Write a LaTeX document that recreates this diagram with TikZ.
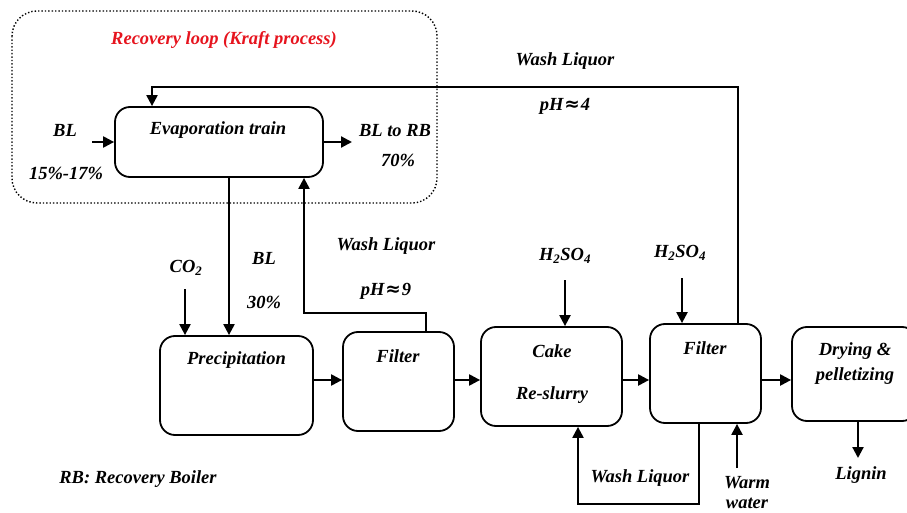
\documentclass[tikz,border=0pt]{standalone}
\usepackage{fontspec}
\setmainfont{Liberation Serif}
\newfontfamily\symfont{DejaVu Sans}
\usetikzlibrary{arrows.meta}
\definecolor{loopred}{RGB}{230,20,30}
\newcommand{\approxsym}{{\symfont\kern1pt≈\kern1pt}}
\tikzset{
  box/.style={draw, line width=1.8pt, rounded corners=15pt},
  flow/.style={line width=2.2pt, -{Triangle[length=11pt,width=11pt]}},
  lbl/.style={font=\fontsize{18.5}{21}\selectfont\bfseries\itshape, inner sep=0pt},
}
\begin{document}
\begin{tikzpicture}[x=1pt,y=-1pt]
\useasboundingbox (0,0) rectangle (907,513);
\clip (0,0) rectangle (907,513);
% recovery loop
\draw[line width=1.4pt, dotted, rounded corners=25pt] (12,11) rectangle (437,203);
\node[lbl, text=loopred] (rl) at (224,40) {Recovery loop (Kraft process)};
% boxes
\node[box, minimum width=208pt, minimum height=70pt] (evap) at (219,142) {};
\node[lbl] at (218,130) {Evaporation train};
\node[box, minimum width=153pt, minimum height=99pt] (prec) at (236.5,385.5) {};
\node[lbl] at (236.5,360) {Precipitation};
\node[box, minimum width=111pt, minimum height=99pt] (f1) at (398.5,381.5) {};
\node[lbl] at (398,356) {Filter};
\node[box, minimum width=141pt, minimum height=99pt] (cake) at (551.5,376.5) {};
\node[lbl] at (552,351) {Cake};
\node[lbl] at (552,395) {Re-slurry};
\node[box, minimum width=111pt, minimum height=99pt] (f2) at (705.5,373.5) {};
\node[lbl] at (705,348) {Filter};
\node[box, minimum width=125pt, minimum height=94pt] (dry) at (854.5,374) {};
\node[lbl] at (855,351) {Drying \&};
\node[lbl] at (855,376) {pelletizing};
% labels
\node[lbl] (bl1) at (65,130) {BL};
\node[lbl] (pct1) at (66,173) {15\%-17\%};
\node[lbl] (blrb) at (395,131) {BL to RB};
\node[lbl] (pct70) at (398,160) {70\%};
\node[lbl] (wl1) at (565,61) {Wash Liquor};
\node[lbl] (ph4) at (565,106) {pH\approxsym 4};
\node[lbl] (co2) at (186,268) {CO\textsubscript{2}};
\node[lbl] (bl2) at (264,258) {BL};
\node[lbl] (pct30) at (264,302) {30\%};
\node[lbl] (wl2) at (386,246) {Wash Liquor};
\node[lbl] (ph9) at (386,291) {pH\approxsym 9};
\node[lbl] (h1) at (565,256) {H\textsubscript{2}SO\textsubscript{4}};
\node[lbl] (h2) at (680,253) {H\textsubscript{2}SO\textsubscript{4}};
\node[lbl] (wl3) at (640,478) {Wash Liquor};
\node[lbl] (warm) at (747,483) {Warm};
\node[lbl] (water) at (747,503) {water};
\node[lbl] (lig) at (861,475) {Lignin};
\node[lbl] (rb) at (138,479) {RB: Recovery Boiler};
% coordinates
\coordinate (blin) at (92,142);
\coordinate (blout) at (352,142);
\coordinate (co2s) at (185,289);
\coordinate (h1s) at (565,280);
\coordinate (h2s) at (682,278);
\coordinate (warms) at (737,468);
\coordinate (ligend) at (858,458);
% connectors
\draw[flow] (blin) -- (evap.west |- blin);
\draw[flow] (evap.east |- blout) -- (blout);
\draw[flow] (evap.south -| 229,0) -- (prec.north -| 229,0);
\draw[flow] (co2s) -- (prec.north -| co2s);
\draw[flow] (f1.north -| 426,0) -- (426,313) -- (304,313) -- (evap.south -| 304,0);
\draw[flow] (f2.north -| 738,0) -- (738,87) -- (152,87) -- (evap.north -| 152,0);
\draw[flow] (prec.east |- 0,380) -- (f1.west |- 0,380);
\draw[flow] (f1.east |- 0,380) -- (cake.west |- 0,380);
\draw[flow] (cake.east |- 0,380) -- (f2.west |- 0,380);
\draw[flow] (f2.east |- 0,380) -- (dry.west |- 0,380);
\draw[flow] (h1s) -- (cake.north -| h1s);
\draw[flow] (h2s) -- (f2.north -| h2s);
\draw[flow] (f2.south -| 699,0) -- (699,504) -- (578,504) -- (cake.south -| 578,0);
\draw[flow] (warms) -- (f2.south -| warms);
\draw[flow] (dry.south -| ligend) -- (ligend);
\end{tikzpicture}
\end{document}
